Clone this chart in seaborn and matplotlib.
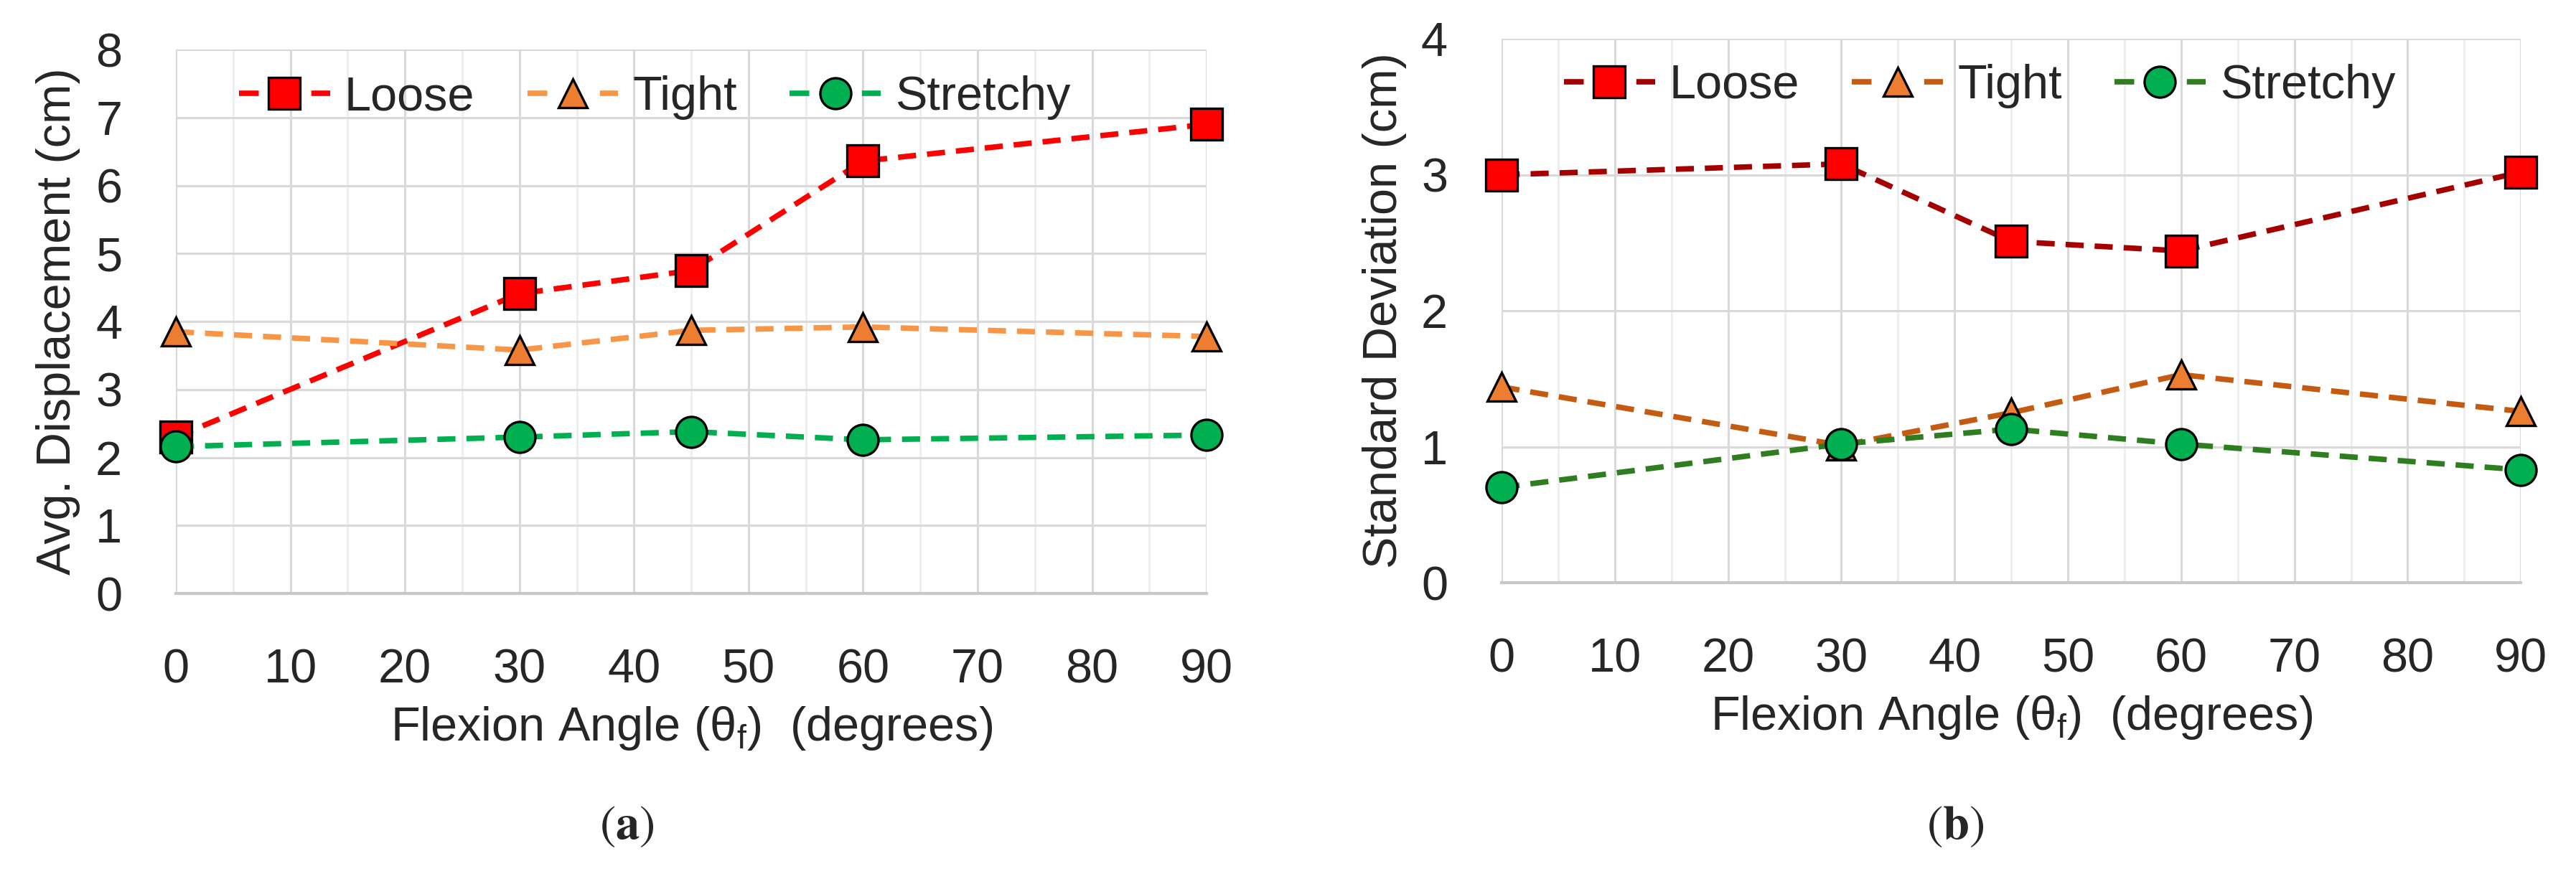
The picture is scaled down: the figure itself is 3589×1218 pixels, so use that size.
import pandas as pd
import seaborn as sns
import matplotlib.pyplot as plt
from matplotlib.lines import Line2D
from matplotlib.ticker import MultipleLocator

# données
angles = [0, 30, 45, 60, 90]
series = ['Loose', 'Tight', 'Stretchy']

avg_loose = [2.30, 4.41, 4.75, 6.36, 6.90]
avg_tight = [3.85, 3.58, 3.87, 3.92, 3.78]
avg_stretchy = [2.16, 2.30, 2.38, 2.26, 2.33]

std_loose = [3.00, 3.08, 2.51, 2.44, 3.02]
std_tight = [1.44, 1.01, 1.25, 1.53, 1.26]
std_stretchy = [0.70, 1.02, 1.13, 1.02, 0.83]

sns.set_style('white')
plt.rcParams['font.family'] = ['Liberation Sans', 'DejaVu Sans']
plt.rcParams['mathtext.fontset'] = 'custom'

FS = 48
markers = {'Loose': 's', 'Tight': '^', 'Stretchy': 'o'}
sizes = {'Loose': 31, 'Tight': 29, 'Stretchy': 31}
faces = {'Loose': '#FF0000', 'Tight': '#ED7D31', 'Stretchy': '#00B050'}
lines_a = {'Loose': '#FF0000', 'Tight': '#F79646', 'Stretchy': '#00B050'}
lines_b = {'Loose': '#A50000', 'Tight': '#C55A11', 'Stretchy': '#2E7D1E'}


def make_df(vals):
    rows = []
    for name, v in zip(series, vals):
        for a, y in zip(angles, v):
            rows.append({'angle': a, 'value': y, 'series': name})
    return pd.DataFrame(rows)


def draw(ax, df, line_colors, ymax, ylabel, leg_xy):
    for name in series:
        sub = df[df['series'] == name]
        sns.lineplot(data=sub, x='angle', y='value', ax=ax, color=line_colors[name],
                     linewidth=5.5, linestyle=(0, (3.3, 2.0)), marker=markers[name],
                     markersize=sizes[name], markerfacecolor=faces[name],
                     markeredgecolor='black', markeredgewidth=2.4, clip_on=False)
    ax.set_xlim(0, 90)
    ax.set_ylim(0, ymax)
    ax.xaxis.set_major_locator(MultipleLocator(10))
    ax.xaxis.set_minor_locator(MultipleLocator(5))
    ax.yaxis.set_major_locator(MultipleLocator(1))
    ax.grid(which='major', color='#D9D9D9', linewidth=2.2, zorder=0)
    ax.grid(which='minor', axis='x', color='#EEEEEE', linewidth=2.2, zorder=0)
    ax.set_axisbelow(True)
    for s in ['top', 'right', 'left']:
        ax.spines[s].set_visible(False)
    ax.spines['bottom'].set_color('#C8C8C8')
    ax.spines['bottom'].set_linewidth(3)
    ax.tick_params(axis='x', which='both', length=0, pad=55, labelsize=FS)
    ax.tick_params(axis='y', which='both', length=0, pad=54, labelsize=FS)
    ax.set_xlabel('Flexion Angle (θ$_\\mathregular{f}$)  (degrees)', fontsize=FS)
    ax.set_ylabel(ylabel, fontsize=FS)
    ax.xaxis.set_label_coords(0.5, -0.205)
    ax.yaxis.set_label_coords(-0.093, 0.5)

    handles = [Line2D([], [], color=line_colors[n], linewidth=5.5, linestyle=(0, (3.6, 9.6)),
                      marker=markers[n], markersize=sizes[n], markerfacecolor=faces[n],
                      markeredgecolor='black', markeredgewidth=2.4) for n in series]
    ax.legend(handles, series, loc='center left', bbox_to_anchor=leg_xy,
              bbox_transform=ax.figure.transFigure, ncol=3, frameon=False,
              fontsize=FS, handlelength=1.9, handletextpad=0.3, columnspacing=1.1,
              borderpad=0, borderaxespad=0)


fig = plt.figure(figsize=(35.89, 12.18), dpi=100)
ax1 = fig.add_axes([0.0683, 0.3210, 0.4001, 0.6223])
ax2 = fig.add_axes([0.5829, 0.3333, 0.3957, 0.6223])

draw(ax1, make_df([avg_loose, avg_tight, avg_stretchy]), lines_a, 8,
     'Avg. Displacement (cm)', (0.0928, 0.888))
draw(ax2, make_df([std_loose, std_tight, std_stretchy]), lines_b, 4,
     'Standard Deviation (cm)', (0.6071, 0.9015))

fig.text(0.2432, 0.0542, r'$(\mathbf{a})$', ha='center', va='center', fontsize=48,
         math_fontfamily='stix')
fig.text(0.759, 0.0542, r'$(\mathbf{b})$', ha='center', va='center', fontsize=48,
         math_fontfamily='stix')

fig.savefig('out.png', dpi=100)
